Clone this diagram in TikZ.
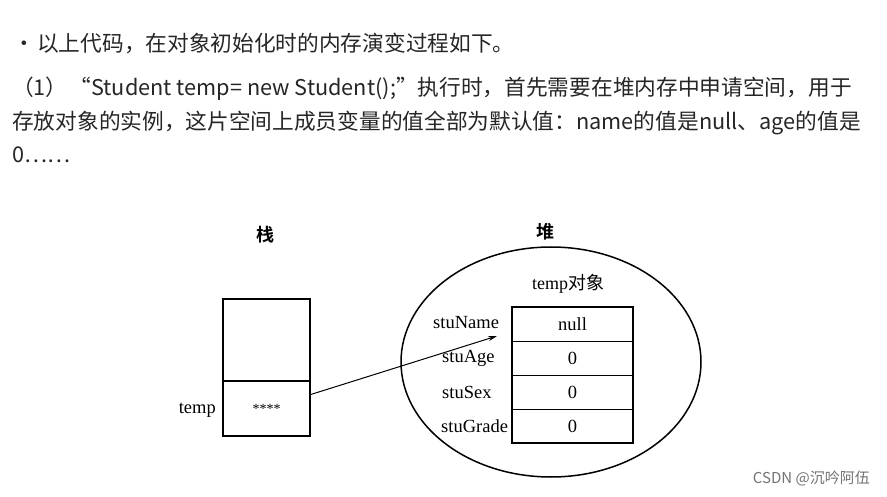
\documentclass[tikz,border=0pt]{standalone}
\usepackage{fontspec}
\setmainfont{Liberation Serif}
\newfontfamily\cjk{Noto Sans CJK SC}
\newfontfamily\cjkbold{Noto Sans CJK SC Bold}
\usetikzlibrary{positioning,calc,arrows.meta,shapes.geometric}

\begin{document}
\begin{tikzpicture}[x=1pt,y=-1pt,
    para/.style={anchor=base west,inner sep=0pt,font=\cjk\fontsize{21.7}{21.7}\selectfont,text=black!85},
    lbl/.style={inner sep=0pt,font=\fontsize{18.5}{18.5}\selectfont},
    title/.style={inner sep=0pt,font=\cjkbold\fontsize{18}{18}\selectfont},
    cell/.style={draw,line width=0.9pt,minimum width=121pt,minimum height=34pt,inner sep=0pt,outer sep=0pt,font=\fontsize{18.5}{18.5}\selectfont}]

\useasboundingbox[fill=white] (0,0) rectangle (887,497);

% text above the picture
\node [para] (dot) at (13,52){•};
\node [para] (l1) at (37,52){以上代码，在对象初始化时的内存演变过程如下。};
\node [para] (l2) at (12,96){（1）\hspace{2pt}“Student temp= new Student();”执行时，首先需要在堆内存中申请空间，用于};
\node [para] (l3) at (12,130){存放对象的实例，这片空间上成员变量的值全部为默认值：name的值是null、age的值是};
\node [para] (l4) at (12,163){0……};

% stack
\node [title] (stack) at (265,235){栈};
\node [draw,line width=1.1pt,minimum width=87pt,minimum height=82pt,inner sep=0pt,outer sep=0pt] (top) at (266.5,340){};
\node [draw,line width=1.1pt,minimum width=87pt,minimum height=55pt,inner sep=0pt,outer sep=0pt,below=0pt of top,font=\fontsize{14}{14}\selectfont] (tempcell){****};
\draw[line width=2.2pt] (top.north west) rectangle (tempcell.south east);
\node [lbl,anchor=east] (tempname) at (216,410){temp};

% heap
\node [title] (heap) at (545,232){堆};
\node [draw,ellipse,line width=1.5pt,minimum width=300pt,minimum height=230pt,inner sep=0pt] (heaparea) at (551,362){};
\node [inner sep=0pt,font=\fontsize{18}{18}\selectfont] (obj) at (568,284){temp{\cjk 对象}};
\node [cell] (name) at (572.5,324){null};
\node [cell,below=0pt of name] (age){0};
\node [cell,below=0pt of age] (sex){0};
\node [cell,below=0pt of sex] (grade){0};
\draw[line width=2pt] (name.north west) rectangle (grade.south east);
\node [lbl,anchor=west] (nameL) at (433,323){stuName};
\node [lbl,anchor=west] (ageL) at (442,358){stuAge};
\node [lbl,anchor=west] (sexL) at (442,392){stuSex};
\node [lbl,anchor=west] (gradeL) at (441,426){stuGrade};

% reference
\coordinate (tip) at (497,336);
\draw[line width=1pt,-{Stealth[length=9pt,width=5pt]}] ($(tempcell.north east)!0.25!(tempcell.south east)$) -- (tip);

% watermark
\node [inner sep=0pt,anchor=east,font=\cjk\fontsize{15}{15}\selectfont,text=black!55] (mark) at (870,478){CSDN @沉吟阿伍};
\end{tikzpicture}
\end{document}
